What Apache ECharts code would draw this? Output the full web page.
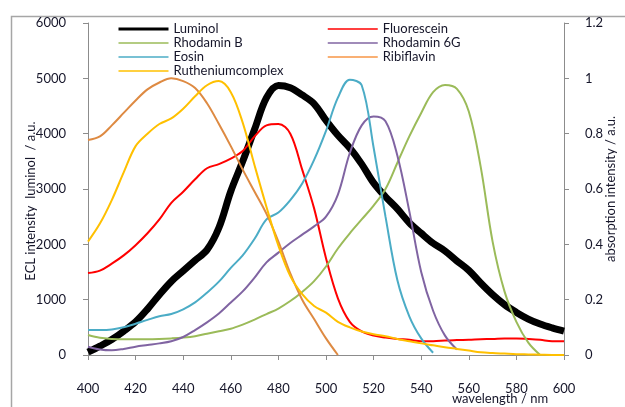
<!DOCTYPE html>
<html>
<head>
<meta charset="utf-8">
<script src="https://cdn.jsdelivr.net/npm/echarts@6/dist/echarts.min.js"></script>
<style>
html,body{margin:0;padding:0;background:#fff;}
#chart{width:625px;height:407px;}
</style>
</head>
<body>
<div id="chart"></div>
<script>
// wavelength grid (nm)
const wavelength = [400,405,410,415,420,425,430,435,440,445,450,455,460,465,470,475,480,485,490,495,500,505,510,515,520,525,530,535,540,545,550,555,560,565,570,575,580,585,590,595,600];

// ECL intensity (left axis, a.u.)
const luminol = [50,160,280,430,600,830,1090,1330,1520,1710,1900,2300,2960,3500,4080,4650,4870,4830,4700,4540,4240,3970,3740,3450,3110,2860,2640,2390,2200,2020,1880,1700,1530,1300,1090,910,770,650,560,490,430];

// absorption intensity (right axis, a.u.)
const fluorescein = [0.296,0.305,0.33,0.36,0.397,0.44,0.49,0.55,0.59,0.635,0.675,0.69,0.71,0.737,0.79,0.83,0.835,0.8,0.67,0.53,0.35,0.205,0.12,0.085,0.07,0.063,0.058,0.055,0.05,0.05,0.052,0.054,0.055,0.057,0.058,0.06,0.06,0.058,0.055,0.05,0.05];
const rhodaminB = [0.072,0.062,0.058,0.057,0.057,0.057,0.058,0.06,0.063,0.068,0.077,0.086,0.095,0.11,0.128,0.148,0.168,0.195,0.228,0.267,0.32,0.385,0.44,0.49,0.54,0.6,0.695,0.79,0.875,0.95,0.976,0.962,0.88,0.68,0.41,0.23,0.12,0.045,0.0,null,null];
const rhodamin6G = [0.03,0.02,0.017,0.022,0.03,0.036,0.042,0.05,0.065,0.09,0.118,0.15,0.19,0.23,0.28,0.335,0.37,0.405,0.435,0.465,0.5,0.58,0.73,0.83,0.862,0.845,0.72,0.52,0.3,0.16,0.07,0.02,null,null,null,null,null,null,null,null,null];
const eosin = [0.09,0.09,0.092,0.1,0.113,0.127,0.14,0.148,0.165,0.19,0.225,0.265,0.315,0.36,0.42,0.49,0.515,0.56,0.62,0.705,0.81,0.93,0.995,0.975,0.75,0.5,0.27,0.14,0.06,0.008,null,null,null,null,null,null,null,null,null,null,null];
const ribiflavin = [0.777,0.79,0.83,0.875,0.92,0.96,0.985,1.0,0.99,0.965,0.91,0.835,0.755,0.67,0.59,0.51,0.41,0.295,0.2,0.13,0.06,0.0,null,null,null,null,null,null,null,null,null,null,null,null,null,null,null,null,null,null,null];
const ruthenium = [0.41,0.475,0.56,0.66,0.755,0.8,0.835,0.855,0.89,0.935,0.975,0.99,0.95,0.84,0.685,0.535,0.395,0.285,0.22,0.177,0.153,0.12,0.1,0.085,0.075,0.068,0.058,0.05,0.042,0.035,0.028,0.022,0.016,0.01,0.007,0.005,0.003,0.002,0.001,0,0];

const seriesNames = ['Luminol','Fluorescein','Rhodamin B','Rhodamin 6G','Eosin','Ribiflavin','Rutheniumcomplex'];
const seriesValues = [luminol, fluorescein, rhodaminB, rhodamin6G, eosin, ribiflavin, ruthenium];
const seriesColors = ['#000000','#FF0000','#9BBB59','#8064A2','#4BACC6','#DE8A42','#FFC000'];
const seriesWidths = [7,2,2,2,2,2,2];
const seriesAxis = [0,1,1,1,1,1,1];

const xTicks = {min:400, max:600, interval:20};
const yLeftTicks = {min:0, max:6000, interval:1000};
const yRightTicks = {min:0, max:1.2, interval:0.2};

const FONT = 'Lato';
const TXT = '#16162a';
const AX = '#8c8c8c';

function pairs(vals){
  const out = [];
  for (let i = 0; i < wavelength.length; i++) {
    if (vals[i] !== null) out.push([wavelength[i], vals[i]]);
  }
  return out;
}

const chart = echarts.init(document.getElementById('chart'), null, {renderer:'canvas'});

const series = seriesNames.map((n, i) => ({
  name: n,
  type: 'line',
  yAxisIndex: seriesAxis[i],
  data: pairs(seriesValues[i]),
  showSymbol: false,
  symbol: 'circle',
  smooth: 0.35,
  lineStyle: {color: seriesColors[i], width: seriesWidths[i]},
  itemStyle: {color: seriesColors[i]},
  emphasis: {disabled: true},
  animation: false
}));

function legendItem(n){
  const i = seriesNames.indexOf(n);
  const item = {name: n, lineStyle: {width: i === 0 ? 3 : 1.5}};
  if (n === 'Ribiflavin') item.lineStyle.color = '#F79646';
  return item;
}

const legendCommon = {
  orient: 'vertical',
  itemWidth: 50,
  itemHeight: 14,
  itemGap: 0,
  padding: 0,
  itemStyle: {opacity: 0},
  selectedMode: false,
  textStyle: {fontFamily: FONT, fontSize: 13, color: TXT, lineHeight: 14}
};

chart.setOption({
  animation: false,
  backgroundColor: '#fff',
  grid: {left: 88, right: 59, top: 23, bottom: 52, containLabel: false},
  legend: [
    Object.assign({}, legendCommon, {left: 117, top: 22, data: ['Luminol','Rhodamin B','Eosin','Rutheniumcomplex'].map(legendItem)}),
    Object.assign({}, legendCommon, {left: 327, top: 22, data: ['Fluorescein','Rhodamin 6G','Ribiflavin'].map(legendItem)})
  ],
  xAxis: {
    type: 'value',
    min: xTicks.min, max: xTicks.max, interval: xTicks.interval,
    axisLine: {show: true, lineStyle: {color: AX, width: 1}},
    axisTick: {show: true, inside: false, length: 5, lineStyle: {color: AX}},
    axisLabel: {margin: 27, fontFamily: FONT, fontSize: 13, color: TXT},
    splitLine: {show: false}
  },
  yAxis: [
    {
      type: 'value', position: 'left',
      min: yLeftTicks.min, max: yLeftTicks.max, interval: yLeftTicks.interval,
      name: 'ECL intensity  luminol  / a.u.',
      nameLocation: 'middle', nameRotate: 90, nameGap: 51, nameMoveOverlap: false,
      nameTextStyle: {fontFamily: FONT, fontSize: 13, color: TXT, padding: [0, 24, 0, 0]},
      axisLine: {show: true, lineStyle: {color: AX, width: 1}},
      axisTick: {show: true, inside: false, length: 5, lineStyle: {color: AX}},
      axisLabel: {margin: 22, fontFamily: FONT, fontSize: 13, color: TXT, formatter: v => String(v)},
      splitLine: {show: false}
    },
    {
      type: 'value', position: 'right',
      min: yRightTicks.min, max: yRightTicks.max, interval: yRightTicks.interval,
      name: 'absorption intensity / a.u.',
      nameLocation: 'middle', nameRotate: 90, nameGap: 40, nameMoveOverlap: false,
      nameTextStyle: {fontFamily: FONT, fontSize: 13, color: TXT},
      axisLine: {show: true, lineStyle: {color: AX, width: 1}},
      axisTick: {show: true, inside: false, length: 5, lineStyle: {color: AX}},
      axisLabel: {margin: 21, fontFamily: FONT, fontSize: 13, color: TXT},
      splitLine: {show: false}
    }
  ],
  graphic: [
    {type: 'rect', left: 9, top: 14, silent: true, z: -1,
     shape: {width: 720, height: 500},
     style: {fill: 'none', stroke: '#A6A6A6', lineWidth: 1.5}},
    {type: 'text', x: 500, y: 399, silent: true,
     style: {text: 'wavelength / nm', fontFamily: FONT, fontSize: 13, fill: TXT, align: 'center', verticalAlign: 'middle'}}
  ],
  series: series
});
</script>
</body>
</html>
